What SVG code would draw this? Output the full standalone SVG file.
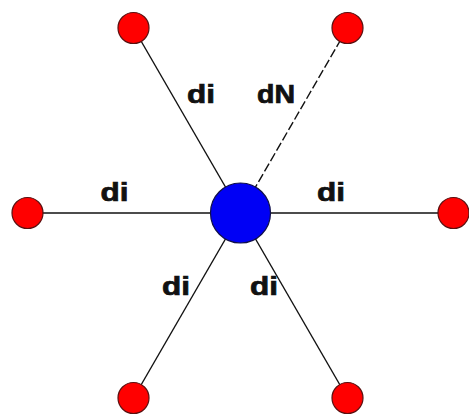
<svg xmlns="http://www.w3.org/2000/svg" width="469" height="416" viewBox="0 0 469 416">
<style>
.edge{stroke:#111;stroke-width:1.4;fill:none}
.dash{stroke-dasharray:9 3}
.leaf{fill:#f00;stroke:#5a1010;stroke-width:1.2}
.hub{fill:#0000f5;stroke:#10104a;stroke-width:1.2}
.lbl{font-family:"Liberation Sans",Arial,sans-serif;font-weight:bold;font-size:25px;fill:#111;stroke:#111;stroke-width:0.7}
</style>
<rect width="469" height="416" fill="#fff"/>
<g id="connectors">
<line class="edge" x1="240.5" y1="213" x2="133.5" y2="28"/>
<line class="edge dash" x1="240.5" y1="213" x2="347.5" y2="28"/>
<line class="edge" x1="240.5" y1="213" x2="27.5" y2="213"/>
<line class="edge" x1="240.5" y1="213" x2="453.5" y2="213"/>
<line class="edge" x1="240.5" y1="213" x2="133.5" y2="398"/>
<line class="edge" x1="240.5" y1="213" x2="347.5" y2="398"/>
<text class="lbl" x="187" y="103" textLength="28" lengthAdjust="spacingAndGlyphs">di</text>
<text class="lbl" x="257" y="103" textLength="38" lengthAdjust="spacingAndGlyphs">dN</text>
<text class="lbl" x="100.5" y="201" textLength="28" lengthAdjust="spacingAndGlyphs">di</text>
<text class="lbl" x="317" y="201" textLength="28" lengthAdjust="spacingAndGlyphs">di</text>
<text class="lbl" x="162" y="295" textLength="28" lengthAdjust="spacingAndGlyphs">di</text>
<text class="lbl" x="250" y="295" textLength="28" lengthAdjust="spacingAndGlyphs">di</text>
</g>
<g id="n-center"><circle class="hub" cx="240.5" cy="213" r="30"/></g>
<g id="n-tl"><circle class="leaf" cx="133.5" cy="28" r="15.5"/></g>
<g id="n-tr"><circle class="leaf" cx="347.5" cy="28" r="15.5"/></g>
<g id="n-l"><circle class="leaf" cx="27.5" cy="213" r="15.5"/></g>
<g id="n-r"><circle class="leaf" cx="453.5" cy="213" r="15.5"/></g>
<g id="n-bl"><circle class="leaf" cx="133.5" cy="398" r="15.5"/></g>
<g id="n-br"><circle class="leaf" cx="347.5" cy="398" r="15.5"/></g>
</svg>
